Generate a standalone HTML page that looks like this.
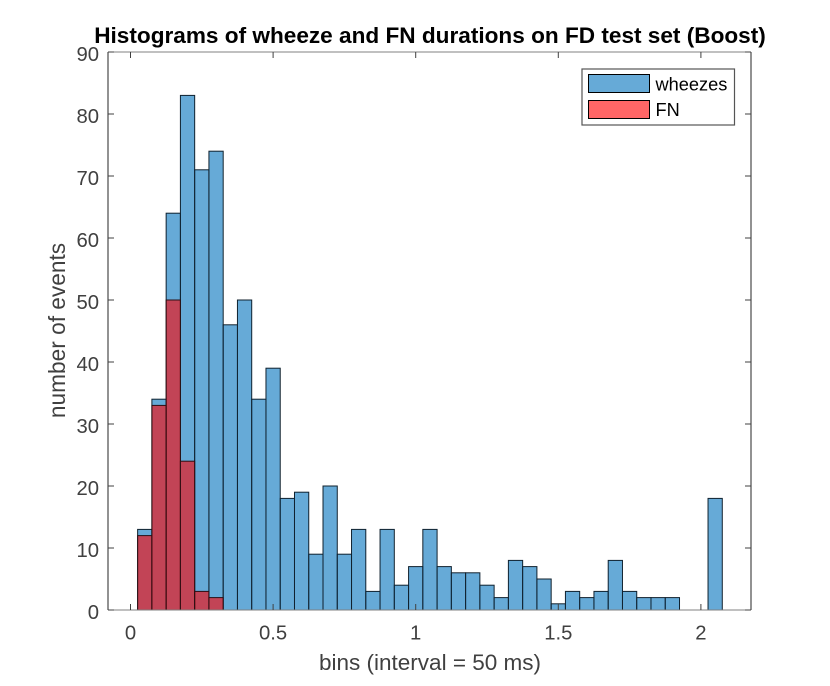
<!DOCTYPE html>
<html lang="en">
<head>
<meta charset="utf-8">
<title>Histograms of wheeze and FN durations</title>
<style>
html,body{margin:0;padding:0;background:#fff;width:830px;height:686px;overflow:hidden}
svg{display:block;font-family:"Liberation Sans",Arial,sans-serif;filter:blur(0.35px)}
</style>
</head>
<body>
<svg id="chart" xmlns="http://www.w3.org/2000/svg" width="830" height="686" viewBox="0 0 830 686">
  <rect x="0" y="0" width="830" height="686" fill="#fff"/>
  <g id="bars"></g>
  <g id="axes"></g>
  <text x="430" y="43" text-anchor="middle" font-size="22.6" font-weight="bold" fill="#000">Histograms of wheeze and FN durations on FD test set (Boost)</text>
  <text x="430" y="670" text-anchor="middle" font-size="22.5" fill="#404040">bins (interval = 50 ms)</text>
  <text transform="translate(65 330.5) rotate(-90)" text-anchor="middle" font-size="22.7" fill="#404040">number of events</text>
  <g>
    <rect x="582" y="69" width="152.5" height="56" fill="#fff" stroke="#555" stroke-width="1.2"/>
    <rect x="588.5" y="74.5" width="61" height="18" fill="#0072bd" fill-opacity="0.6" stroke="#000" stroke-width="1"/>
    <text x="655.5" y="90.5" font-size="18.2" fill="#000">wheezes</text>
    <rect x="588.5" y="100.5" width="61" height="18" fill="#ff0000" fill-opacity="0.6" stroke="#000" stroke-width="1"/>
    <text x="655.5" y="116" font-size="18.2" fill="#000">FN</text>
  </g>
</svg>
<script>
const binStart = 0.025;
const binWidth = 0.05;
const wheezeCounts = [13,34,64,83,71,74,46,50,34,39,18,19,9,20,9,13,3,13,4,7,13,7,6,6,4,2,8,7,5,1,3,2,3,8,3,2,2,2,0,0,18];
const fnCounts = [12,33,50,24,3,2];
const xTicks = [0,0.5,1,1.5,2];
const yTicks = [0,10,20,30,40,50,60,70,80,90];

const NS = 'http://www.w3.org/2000/svg';
const plot = {left:108, right:751, top:52, bottom:610};
const xScale = v => 130.5 + v * 285.2;
const yScale = v => plot.bottom - v * (plot.bottom - plot.top) / 90;
const barsG = document.getElementById('bars');
const axesG = document.getElementById('axes');

function make(tag, parent, attrs) {
  const el = document.createElementNS(NS, tag);
  for (const k in attrs) el.setAttribute(k, attrs[k]);
  parent.appendChild(el);
  return el;
}

wheezeCounts.forEach((count, i) => {
  if (count <= 0) return;
  const x0 = xScale(binStart + i * binWidth);
  const x1 = xScale(binStart + (i + 1) * binWidth);
  const y = yScale(count);
  const r = make('rect', barsG, {x:x0, y:y, width:x1 - x0, height:plot.bottom - y, fill:'#0072bd', 'fill-opacity':0.6, stroke:'#10212e', 'stroke-width':1});
  
  
});

fnCounts.forEach((count, i) => {
  if (count <= 0) return;
  const x0 = xScale(binStart + i * binWidth);
  const x1 = xScale(binStart + (i + 1) * binWidth);
  const y = yScale(count);
  const r = make('rect', barsG, {x:x0, y:y, width:x1 - x0, height:plot.bottom - y, fill:'#ff0000', 'fill-opacity':0.6, stroke:'#2a1015', 'stroke-width':1});
  
  
});

const axisColor = '#404040';
[[plot.left,plot.top,plot.right,plot.top,'#808080'],
 [plot.left,plot.bottom,plot.right,plot.bottom,'#808080'],
 [plot.left,plot.top,plot.left,plot.bottom,'#262626'],
 [plot.right,plot.top,plot.right,plot.bottom,'#262626']].forEach(s => {
  const l = make('line', axesG, {x1:s[0], y1:s[1], x2:s[2], y2:s[3], stroke:s[4], 'stroke-width':1});
  
  
});

xTicks.forEach(v => {
  const x = xScale(v);
  const b = make('line', axesG, {x1:x, y1:plot.bottom, x2:x, y2:plot.bottom - 6, stroke:axisColor, 'stroke-width':1});
  
  
  const t = make('line', axesG, {x1:x, y1:plot.top, x2:x, y2:plot.top + 6, stroke:axisColor, 'stroke-width':1});
  
  
  const label = make('text', axesG, {x:x, y:639.5, 'text-anchor':'middle', 'font-size':20.3, fill:axisColor});
  
  
  label.textContent = String(v);
});

yTicks.forEach(v => {
  const y = yScale(v);
  const a = make('line', axesG, {x1:plot.left, y1:y, x2:plot.left + 6, y2:y, stroke:axisColor, 'stroke-width':1});
  
  
  const c = make('line', axesG, {x1:plot.right, y1:y, x2:plot.right - 6, y2:y, stroke:axisColor, 'stroke-width':1});
  
  
  const label = make('text', axesG, {x:99, y:y + 9, 'text-anchor':'end', 'font-size':20.3, fill:axisColor});
  
  
  label.textContent = String(v);
});
</script>
</body>
</html>
